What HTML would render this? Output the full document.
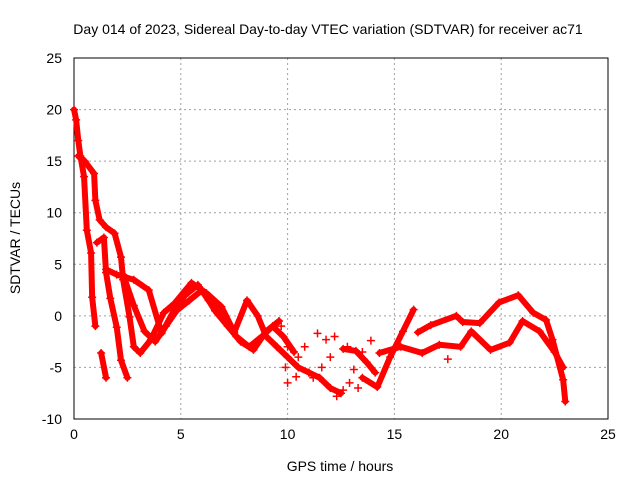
<!DOCTYPE html>
<html><head><meta charset="utf-8"><style>
body{margin:0;background:#fff}
text{font-family:"Liberation Sans",sans-serif;font-size:14px;fill:#000}
</style></head><body>
<svg id="chart" width="640" height="480" xmlns="http://www.w3.org/2000/svg">
<text x="328" y="34" text-anchor="middle">Day 014 of 2023, Sidereal Day-to-day VTEC variation (SDTVAR) for receiver ac71</text>
<text x="340" y="471" text-anchor="middle">GPS time / hours</text>
<text x="20" y="238" text-anchor="middle" transform="rotate(-90 20 238)">SDTVAR / TECUs</text>
<g id="grid"></g><g id="axes"></g><g id="marks"></g>
</svg>
<script>
const xTicks=[0,5,10,15,20,25];
const yTicks=[-10,-5,0,5,10,15,20,25];
const trackA_t=[0,0.1,0.2,0.3,0.47,0.6,0.8,0.85,1.0];
const trackA_v=[20,19,17,15.5,13.5,8.3,6.1,1.8,-1];
const trackA2_t=[1.27,1.5];
const trackA2_v=[-3.6,-6];
const trackB_t=[0.2,0.5,0.94,1.0,1.2,1.5,1.9,2.2,2.3,2.6,2.8,3.1,3.6,4.2,4.7,5.5,6.2,6.9,7.5,8.1,8.6,9.0,9.5,10.0,10.5,11.0,11.5,12.0,12.5];
const trackB_v=[15.5,15,13.8,11.2,9.3,8.6,8,5.7,3.5,-0.1,-3,-3.6,-2.3,0.3,1.2,3.2,2.2,0.9,-1.6,1.5,0,-2,-3,-4,-5,-5.5,-6,-7,-7.5];
const trackC_t=[1.07,1.4,1.5,1.7,2.0,2.2,2.5];
const trackC_v=[7.1,7.6,4.2,1.7,-1.1,-4.3,-6];
const trackD_t=[1.5,2.0,2.8,3.5,4.1,4.7,5.2,5.8,6.3,7.0,7.6,8.2,8.8,9.3,9.8,10.3];
const trackD_v=[4.5,4,3.5,2.5,-1.7,0.6,2,3,1.5,0,-2,-3,-2,-1,-2,-3.5];
const trackE_t=[2.3,2.8,3.3,3.8,4.3,4.8,5.4,6,6.6,7.2,7.8,8.4,9,9.6];
const trackE_v=[4,1,-1.5,-2.5,-1,0.5,1.5,2.5,0.5,-1,-2.5,-3.3,-1.5,-0.5];
const trackF_t=[13.5,14.2,14.8,15.4,15.9];
const trackF_v=[-6,-6.9,-4,-1.5,0.6];
const trackG1_t=[16.1,16.7,17.9,18.2,19.0,19.9,20.8,21.5,22.1,22.4,22.9,23.0];
const trackG1_v=[-1.6,-0.9,0,-0.6,-0.7,1.3,2.0,0.3,-0.4,-2.3,-6.2,-8.3];
const trackG2_t=[14.3,15.3,16.3,17.1,18.1,18.6,19.5,20.4,21.0,21.8,22.5,22.9];
const trackG2_v=[-3.6,-3,-3.6,-2.8,-3,-1.5,-3.3,-2.6,-0.5,-1.5,-3.5,-5];
const trackH_t=[12.6,13.2,13.7,14.1];
const trackH_v=[-3.2,-3.4,-4.5,-5.5];
const scatter_t=[9.7,10,10.5,11.4,11.8,11,12.3,12.6,13.1,12.8,13.9,10.4,10,17.5,12,13.5,11.2,11.6,12.9,13.3,10.8,9.9,12.2];
const scatter_v=[-1,-3,-4,-1.7,-2.3,-5.5,-7.8,-7.2,-5.2,-3,-2.4,-5.9,-6.5,-4.2,-4,-3.5,-6,-5,-6.5,-7,-3,-5,-2];

const L=74,R=608,T=58,B=419;
const sx=t=>L+(t-0)/25*(R-L);
const sy=v=>B-(v+10)/35*(B-T);
const NS="http://www.w3.org/2000/svg";
function mk(tag,attrs,parent){const e=document.createElementNS(NS,tag);for(const k in attrs)e.setAttribute(k,attrs[k]);document.getElementById(parent).appendChild(e);return e;}
xTicks.forEach(t=>{
 if(t>0&&t<25){const g=mk('line',{x1:sx(t),x2:sx(t),y1:T,y2:B,stroke:'#a0a0a0','stroke-dasharray':'2,3'},'grid');
 
 }
 const l=mk('text',{x:sx(t),y:B+20,'text-anchor':'middle'},'axes');l.textContent=t;
 
 
});
yTicks.forEach(v=>{
 if(v>-10&&v<25){const g=mk('line',{x1:L,x2:R,y1:sy(v),y2:sy(v),stroke:'#a0a0a0','stroke-dasharray':'2,3'},'grid');
 
 }
 const l=mk('text',{x:L-12,y:sy(v)+5,'text-anchor':'end'},'axes');l.textContent=v;
 
 
});
const fr=mk('rect',{x:L,y:T,width:R-L,height:B-T,fill:'none',stroke:'#000'},'axes');


const tracks=[[trackA_t,trackA_v],[trackA2_t,trackA2_v],[trackB_t,trackB_v],[trackC_t,trackC_v],[trackD_t,trackD_v],[trackE_t,trackE_v],[trackF_t,trackF_v],[trackG1_t,trackG1_v],[trackG2_t,trackG2_v],[trackH_t,trackH_v]];
tracks.forEach(([ts,vs])=>{
 const pts=ts.map((t,i)=>sx(t)+','+sy(vs[i])).join(' ');
 const p=mk('polyline',{points:pts,fill:'none',stroke:'#ff0000','stroke-width':6,'stroke-linejoin':'round','stroke-linecap':'round'},'marks');
 
 
});
function plus(t,v){
 const x=sx(t),y=sy(v);
 const p=mk('path',{d:`M${x-4},${y}H${x+4}M${x},${y-4}V${y+4}`,stroke:'#ff0000','stroke-width':1.5},'marks');
 
 
}
tracks.forEach(([ts,vs])=>ts.forEach((t,i)=>plus(t,vs[i])));
scatter_t.forEach((t,i)=>plus(t,scatter_v[i]));
</script>
</body></html>
